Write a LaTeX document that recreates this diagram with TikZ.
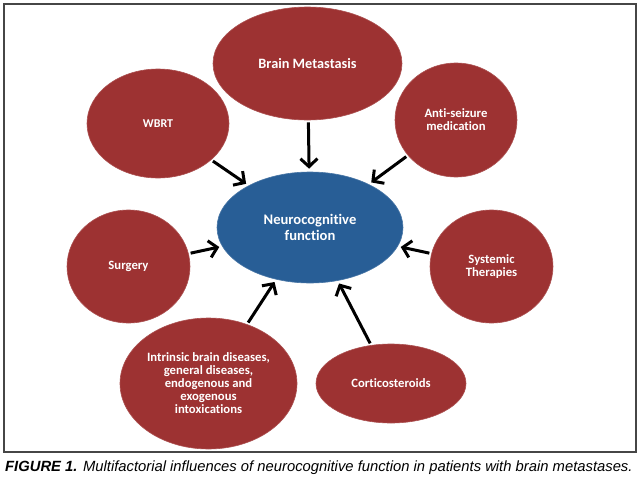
\documentclass[tikz,border=0pt]{standalone}
\usepackage{fontspec}
\setmainfont[Ligatures={NoCommon}]{Carlito}
\newfontfamily\capfont{Liberation Sans}
\usetikzlibrary{shapes.geometric,arrows.meta}
\definecolor{redfill}{RGB}{157,50,50}
\definecolor{bluefill}{RGB}{40,94,150}
\definecolor{framegray}{RGB}{70,70,70}
\tikzset{
  factor/.style={ellipse, fill=redfill, draw=redfill!85!white, line width=0.6pt, inner sep=0pt,
     text=white, font=\bfseries\fontsize{12.7}{13}\selectfont, align=center},
  core/.style={ellipse, fill=bluefill, draw=bluefill!85!white, line width=0.6pt, inner sep=0pt,
     text=white, font=\bfseries\fontsize{14.6}{15.5}\selectfont, align=center},
  infl/.style={line width=3pt, -{Straight Barb[length=8pt,width=17pt,line width=3pt]}, shorten <=2pt, shorten >=3pt}
}
\begin{document}
\begin{tikzpicture}[x=1pt,y=-1pt]
\useasboundingbox (0,0) rectangle (641,477);
\fill[white] (0,0) rectangle (641,477);
\draw[framegray, line width=2pt] (3.5,4) rectangle (636,452);

\node[core, minimum width=186pt, minimum height=111pt] (c) at (310,227.5) {Neurocognitive\\function};

\node[factor, minimum width=189pt, minimum height=113pt, font=\bfseries\fontsize{14.3}{16}\selectfont] (bm) at (307.5,63.5) {Brain Metastasis};
\node[factor, minimum width=142pt, minimum height=109pt, font=\bfseries\fontsize{12}{13}\selectfont] (wbrt) at (158,123.5) {WBRT};
\node[factor, minimum width=122pt, minimum height=114pt] (as) at (456,120) {Anti-seizure\\medication};
\node[factor, minimum width=123pt, minimum height=113pt] (sur) at (128.5,266.5) {Surgery};
\node[factor, minimum width=123pt, minimum height=113pt] (sys) at (491.5,266.5) {Systemic\\Therapies};
\node[factor, minimum width=177pt, minimum height=131pt] (intr) at (208.5,383.5) {Intrinsic brain diseases,\\general diseases,\\endogenous and\\exogenous\\intoxications};
\node[factor, minimum width=150pt, minimum height=79pt] (cort) at (391,383.5) {Corticosteroids};

\draw[infl] (bm) -- (c);
\draw[infl] (wbrt) -- (c);
\draw[infl] (as) -- (c);
\draw[infl] (sur) -- (c);
\draw[infl] (sys) -- (c);
\draw[infl] (intr) -- (c);
\draw[infl] (cort) -- (c);

\node[anchor=base west, inner sep=0pt, font=\capfont\itshape\fontsize{14.8}{16}\selectfont] (cap) at (5,471)
  {{\bfseries FIGURE 1.} Multifactorial influences of neurocognitive function in patients with brain metastases.};
\end{tikzpicture}
\end{document}
